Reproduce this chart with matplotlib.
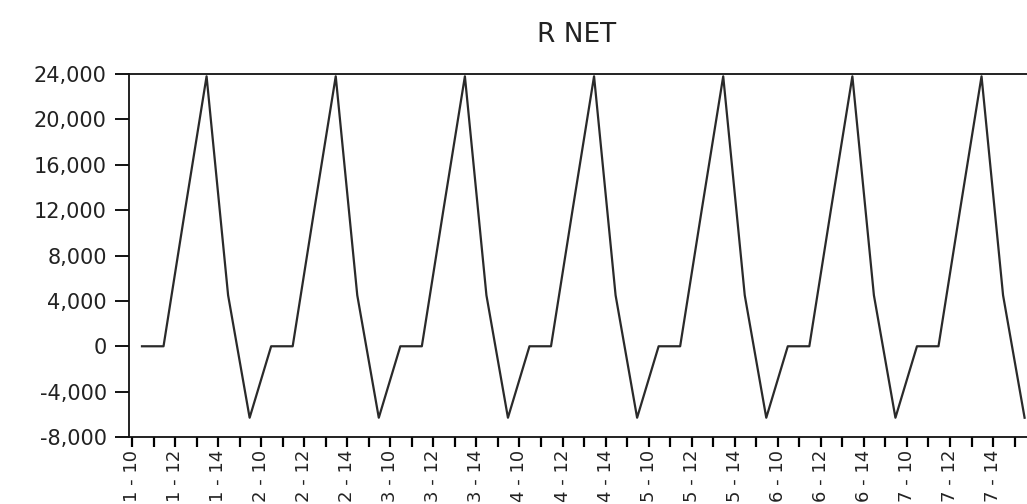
import matplotlib
matplotlib.use("Agg")
import matplotlib.pyplot as plt
from matplotlib.ticker import FuncFormatter

# observation labels: group - period
obs_labels = ["1 - 10", "1 - 11", "1 - 12", "1 - 13", "1 - 14", "1 - 15",
              "2 - 10", "2 - 11", "2 - 12", "2 - 13", "2 - 14", "2 - 15",
              "3 - 10", "3 - 11", "3 - 12", "3 - 13", "3 - 14", "3 - 15",
              "4 - 10", "4 - 11", "4 - 12", "4 - 13", "4 - 14", "4 - 15",
              "5 - 10", "5 - 11", "5 - 12", "5 - 13", "5 - 14", "5 - 15",
              "6 - 10", "6 - 11", "6 - 12", "6 - 13", "6 - 14", "6 - 15",
              "7 - 10", "7 - 11", "7 - 12", "7 - 13", "7 - 14", "7 - 15"]

r_net = [0, 0, 12000, 23800, 4500, -6300,
         0, 0, 12000, 23800, 4500, -6300,
         0, 0, 12000, 23800, 4500, -6300,
         0, 0, 12000, 23800, 4500, -6300,
         0, 0, 12000, 23800, 4500, -6300,
         0, 0, 12000, 23800, 4500, -6300,
         0, 0, 12000, 23800, 4500, -6300]

y_ticks = [-8000, -4000, 0, 4000, 8000, 12000, 16000, 20000, 24000]

fig = plt.figure(figsize=(10.27, 5.04), dpi=100, facecolor='w')
ax = fig.add_axes([0.1256, 0.1329, 0.884, 0.7202])

x = list(range(len(r_net)))
ax.plot(x, r_net, color='#2a2a2a', linewidth=1.6)

ax.set_xlim(-0.604, 41.57)
ax.set_ylim(-8000, 24000)

ax.set_yticks(y_ticks)
ax.yaxis.set_major_formatter(FuncFormatter(lambda v, p: "{:,.0f}".format(v)))

# ticks sit half a step left of each observation
ax.set_xticks([i - 0.464 for i in x])
ax.set_xticklabels([lab if i % 2 == 0 else "" for i, lab in enumerate(obs_labels)],
                   rotation=90, va='top')

for s in ax.spines.values():
    s.set_linewidth(1.3)
    s.set_color('#111111')

ax.tick_params(axis='y', direction='out', length=10, width=1.3, pad=6,
               labelsize=15, labelcolor='#222222')
ax.tick_params(axis='x', direction='out', length=7, width=1.6, pad=2,
               labelsize=13, labelcolor='#222222')

fig.text(0.5615, 0.93, "R NET", ha='center', va='center', fontsize=19, color='#222222')

fig.savefig("out.png", dpi=100, facecolor='w')
